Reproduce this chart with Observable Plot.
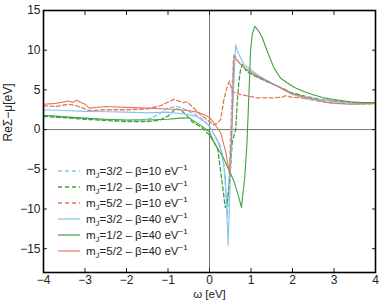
<!DOCTYPE html>
<html>
<head>
<meta charset="utf-8">
<script src="https://cdn.jsdelivr.net/npm/d3@7"></script>
<script src="https://cdn.jsdelivr.net/npm/@observablehq/plot@0.6"></script>
<style>
  html, body { margin: 0; padding: 0; background: #fff; }
  #wrap { position: relative; width: 382px; height: 303px; font-family: "Liberation Sans", Arial, sans-serif; }
  #legend { position: absolute; left: 57px; top: 163px; font-size: 11.5px; color: #222; line-height: 16px; }
  #legend .row { display: flex; align-items: center; height: 16px; white-space: nowrap; }
  #legend svg { width: 24px; height: 8px; margin-right: 5px; }
  #legend sub { font-size: 8px; vertical-align: -3px; line-height: 0; }
  #legend sup { font-size: 8px; vertical-align: 5px; line-height: 0; }
</style>
</head>
<body>
<div id="wrap"><div id="chart"></div><div id="legend"></div></div>
<script>
// ---- data ----
const xTicks = [-4, -3, -2, -1, 0, 1, 2, 3, 4];
const yTicks = [-15, -10, -5, 0, 5, 10, 15];

const labels = ["3/2 – β=10", "1/2 – β=10", "5/2 – β=10", "3/2 – β=40", "1/2 – β=40", "5/2 – β=40"];
const colors = ["#86c3f0", "#3fa33f", "#e4775c", "#86c3f0", "#3fa33f", "#e4775c"];
const dashed = [true, true, true, false, false, false];

// mJ=3/2, beta=10 (dashed blue)
const xB10 = [-4, -3.5, -3, -2.5, -2, -1.5, -1.42, -1.2, -1.02, -0.8, -0.7, -0.5, -0.3, -0.1, 0, 0.15, 0.27, 0.35, 0.43, 0.48, 0.53, 0.57, 0.6, 0.7, 0.99, 1.3, 1.55, 2.0, 2.35, 3.0, 3.5, 4.0];
const yB10 = [1.75, 1.6, 1.4, 1.25, 1.15, 1.3, 1.4, 2.0, 2.7, 2.9, 2.8, 2.3, 1.8, 1.0, 0.4, -1.0, -2.1, -4.5, -11.0, -5, 3, 8.5, 9.3, 8.5, 7.1, 6.3, 5.7, 4.5, 3.8, 3.3, 3.2, 3.2];

// mJ=1/2, beta=10 (dashed green)
const xG10 = [-4, -3.5, -3, -2.5, -2, -1.5, -1.2, -1.0, -0.82, -0.7, -0.55, -0.42, -0.2, 0, 0.1, 0.2, 0.3, 0.38, 0.42, 0.49, 0.55, 0.63, 0.67, 0.71, 0.75, 0.79, 0.9, 1.15, 1.4, 1.63, 1.95, 2.3, 2.7, 3.0, 3.5, 4.0];
const yG10 = [1.65, 1.5, 1.3, 1.15, 1.0, 1.0, 1.2, 1.7, 2.6, 2.5, 1.8, 1.0, 0.3, -0.7, -1.5, -2.5, -6.5, -9.8, -9.5, -6.1, -1.5, 0, 3.6, 6.1, 7.6, 8.2, 7.3, 6.6, 6.0, 5.5, 4.7, 4.2, 3.8, 3.6, 3.4, 3.3];

// mJ=5/2, beta=10 (dashed red)
const xR10 = [-4, -3.7, -3.4, -3.2, -3.0, -2.9, -2.5, -2.0, -1.5, -1.18, -0.86, -0.62, -0.54, -0.4, -0.22, 0, 0.1, 0.2, 0.27, 0.34, 0.43, 0.48, 0.55, 0.75, 1.15, 1.55, 1.75, 1.85, 1.95, 2.2, 2.6, 3.0, 3.5, 4.0];
const yR10 = [3.0, 2.9, 3.2, 3.0, 2.6, 2.4, 2.5, 2.5, 2.6, 3.0, 3.8, 3.4, 3.5, 2.8, 1.9, 1.0, 0.6, 0.8, 1.3, 3.6, 5.5, 6.1, 4.8, 4.4, 4.0, 4.0, 4.1, 4.3, 4.1, 4.0, 3.8, 3.6, 3.4, 3.3];

// mJ=3/2, beta=40 (solid blue)
const xB40 = [-4, -3.5, -3, -2.5, -2, -1.5, -1, -0.5, -0.3, -0.1, 0, 0.1, 0.2, 0.3, 0.38, 0.45, 0.52, 0.58, 0.63, 0.67, 0.83, 1.15, 1.55, 2.0, 2.5, 3.0, 3.5, 4.0];
const yB40 = [2.5, 2.4, 2.3, 2.25, 2.2, 2.1, 2.2, 1.9, 1.6, 0.9, 0.4, -0.5, -1.5, -3, -6, -14.6, -3, 5, 10.7, 9.9, 8.2, 6.9, 5.7, 4.4, 3.9, 3.5, 3.3, 3.3];

// mJ=1/2, beta=40 (solid green)
const xG40 = [-4, -3.5, -3, -2.5, -2, -1.5, -1, -0.7, -0.5, -0.35, -0.2, 0, 0.1, 0.34, 0.59, 0.71, 0.77, 0.85, 0.9, 0.92, 0.99, 1.03, 1.09, 1.19, 1.27, 1.39, 1.55, 1.71, 1.87, 2.05, 2.27, 2.5, 2.75, 3.0, 3.4, 3.7, 4.0];
const yG40 = [1.8, 1.6, 1.45, 1.3, 1.2, 1.2, 1.3, 1.45, 1.5, 1.0, 0.5, -0.3, -1.5, -3.6, -6.5, -8.6, -9.8, -6, -2, 0.5, 9.9, 12, 13.0, 12.4, 11.6, 9.9, 7.8, 6.5, 5.9, 5.3, 4.8, 4.4, 4.0, 3.8, 3.5, 3.4, 3.4];

// mJ=5/2, beta=40 (solid red)
const xR40 = [-4, -3.7, -3.4, -3.3, -3.2, -3.1, -3.0, -2.9, -2.5, -2.0, -1.5, -1.0, -0.5, -0.3, -0.1, 0, 0.1, 0.27, 0.4, 0.48, 0.53, 0.57, 0.59, 0.65, 0.83, 1.15, 1.31, 1.63, 1.95, 2.35, 2.84, 3.4, 4.0];
const yR40 = [3.2, 3.3, 3.6, 3.4, 3.7, 3.4, 3.2, 2.7, 2.9, 2.8, 2.7, 2.6, 2.4, 2.2, 1.8, 1.5, 0.9, -0.4, -3, -5.5, -1, 6, 9.4, 8.8, 7.8, 6.8, 6.3, 5.5, 4.6, 4.0, 3.4, 3.2, 3.3];

const seriesX = [xB10, xG10, xR10, xB40, xG40, xR40];
const seriesY = [yB10, yG10, yR10, yB40, yG40, yR40];

// ---- build chart ----
const lineMarks = seriesX.map((xs, i) => {
  const rows = xs.map((x, j) => ({x, y: seriesY[i][j]}));
  return Plot.line(rows, {
    x: "x", y: "y",
    stroke: colors[i],
    strokeWidth: dashed[i] ? 1.3 : 1.1,
    strokeDasharray: dashed[i] ? "4,2.5" : null
  });
});

const chart = Plot.plot({
  width: 382,
  height: 303,
  marginTop: 10,
  marginRight: 7,
  marginBottom: 31,
  marginLeft: 43,
  style: {fontFamily: "Liberation Sans, Arial, sans-serif", fontSize: "12px", color: "#222", background: "white"},
  x: {domain: [-4, 4]},
  y: {domain: [-18, 15]},
  marks: [
    Plot.ruleX([0], {stroke: "#777", strokeWidth: 1}),
    Plot.ruleY([0], {stroke: "#777", strokeWidth: 1}),
    ...lineMarks,
    Plot.axisX(xTicks, {anchor: "bottom", tickSize: 0, tickPadding: 3, label: null}),
    Plot.axisX(xTicks, {anchor: "bottom", tickSize: -4, tickFormat: () => "", label: null}),
    Plot.axisX(xTicks, {anchor: "top", tickSize: -4, tickFormat: () => "", label: null}),
    Plot.axisY(yTicks, {anchor: "left", tickSize: 0, tickPadding: 3, label: null}),
    Plot.axisY(yTicks, {anchor: "left", tickSize: -4, tickFormat: () => "", label: null}),
    Plot.axisY(yTicks, {anchor: "right", tickSize: -4, tickFormat: () => "", label: null}),
    Plot.frame({stroke: "black", strokeWidth: 1.6}),
    Plot.text(["ω [eV]"], {frameAnchor: "bottom", dy: 17, lineAnchor: "top", fontSize: 11.5}),
    Plot.text(["ReΣ−μ[eV]"], {frameAnchor: "left", dx: -35, rotate: -90, fontSize: 12})
  ]
});
document.getElementById("chart").appendChild(chart);

// ---- legend ----
const legend = document.getElementById("legend");
labels.forEach((lab, i) => {
  const row = document.createElement("div");
  row.className = "row";
  const parts = lab.split(" – ");
  row.innerHTML = `<svg viewBox="0 0 24 8"><line x1="1" y1="4" x2="23" y2="4" stroke="${colors[i]}" stroke-width="${dashed[i] ? 1.3 : 1.2}" ${dashed[i] ? 'stroke-dasharray="4,3"' : ''}/></svg>` +
    `<span>m<sub>J</sub>=${parts[0]} – ${parts[1]} eV<sup>−1</sup></span>`;
  legend.appendChild(row);
});
</script>
</body>
</html>
